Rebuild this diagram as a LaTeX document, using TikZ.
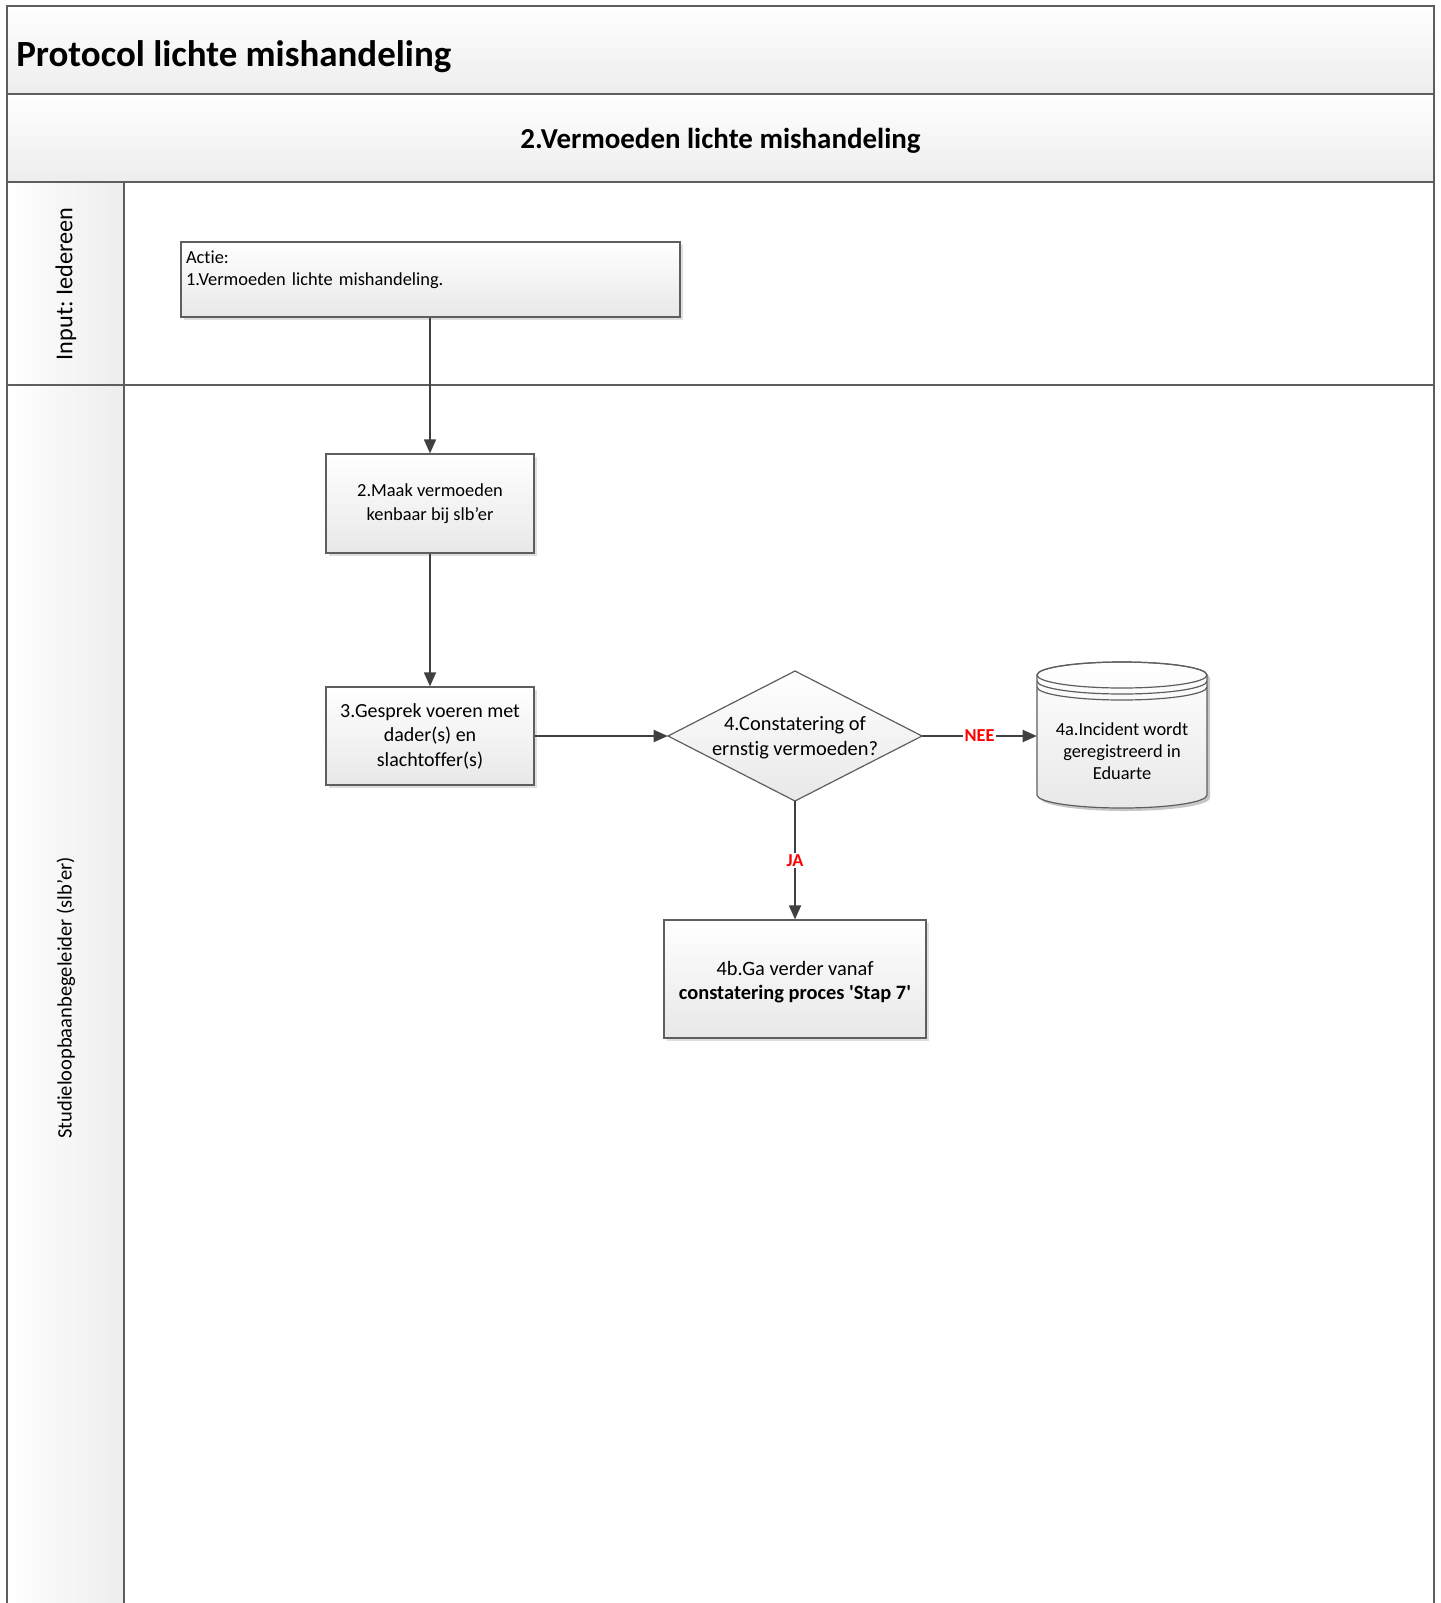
\documentclass[tikz,border=0pt]{standalone}
\usepackage{fontspec}
\newfontfamily\carl{Carlito}[Ligatures=NoCommon]
\usetikzlibrary{arrows.meta,shadows,calc}
\definecolor{lanegrey}{HTML}{EDEDED}
\definecolor{boxgrey}{HTML}{E8E8E8}
\definecolor{bordergrey}{HTML}{5E5E5E}
\definecolor{arrowgrey}{HTML}{404040}
\definecolor{nred}{HTML}{FF0000}
\newcommand\fsz[2]{\fontsize{#1}{#2}\selectfont}
\frenchspacing
\begin{document}
\begin{tikzpicture}[x=0.75pt,y=-0.75pt,
  every node/.style={font=\carl},
  box/.style={draw=bordergrey, line width=0.9pt, top color=white, bottom color=boxgrey,
    drop shadow={shadow xshift=2pt,shadow yshift=-2pt,opacity=0.25}, inner sep=0pt, align=center},
  flow/.style={draw=arrowgrey, line width=1.3pt, -{Triangle[length=10.5pt,width=9pt]}},
  lbl/.style={fill=white, text=nred, inner sep=1pt, font=\carl\bfseries\fsz{13.7pt}{16pt}},
  lane/.style={draw=bordergrey, line width=1.4pt},
  cylr/.style={x radius=63.75pt, y radius=9.75pt}
]
\useasboundingbox (0,0) rectangle (1440,1603);
% pool and lanes
\shade[top color=white,bottom color=lanegrey] (7,6) rectangle (1434,94);
\shade[top color=white,bottom color=lanegrey] (7,94) rectangle (1434,182);
\shade[left color=white,right color=lanegrey] (7,182) rectangle (124,385);
\shade[left color=white,right color=lanegrey] (7,385) rectangle (124,1610);
\draw[lane] (7,1610) -- (7,6) -- (1434,6) -- (1434,1610);
\draw[lane] (7,94) -- (1434,94);
\draw[lane] (7,182) -- (1434,182);
\draw[lane] (7,385) -- (1434,385);
\draw[lane] (124,182) -- (124,1610);

\node[anchor=west, inner sep=0pt, font=\carl\bfseries\fsz{27.7pt}{32pt}] (title) at (16,57) {Protocol lichte mishandeling};
\node[inner sep=0pt, font=\carl\bfseries\fsz{21.7pt}{26pt}] (pool) at (720.5,141) {2.Vermoeden lichte mishandeling};
\node[rotate=90, inner sep=0pt, font=\carl\fsz{18.2pt}{22pt}] (lane1) at (66,284) {Input: Iedereen};
\node[rotate=90, inner sep=0pt, font=\carl\fsz{15.4pt}{18pt}] (lane2) at (66,998) {Studieloopbaanbegeleider (slb’er)};

% boxes
\node[box, minimum width=374.25pt, minimum height=56.25pt, align=left, text width=366.75pt,
  font=\carl\fsz{13.8pt}{16.9pt}] (a1) at (430.5,279.5) {Actie:\\1.Vermoeden lichte mishandeling.\\\mbox{}};
\node[box, minimum width=156pt, minimum height=74.25pt, font=\carl\fsz{13.8pt}{17.6pt}] (b2) at (430,503.5) {2.Maak vermoeden\\kenbaar bij slb’er};
\node[box, minimum width=156pt, minimum height=73.5pt, font=\carl\fsz{15pt}{18.4pt}] (b3) at (430,736) {3.Gesprek voeren met\\dader(s) en\\slachtoffer(s)};

% diamond
\shadedraw[top color=white,bottom color=boxgrey,draw=bordergrey,line width=0.9pt]
  (668,736) -- (795,671) -- (922,736) -- (795,801) -- cycle;
\node[minimum width=190.5pt, minimum height=97.5pt, inner sep=0pt, align=center,
  font=\carl\fsz{15.3pt}{19pt}] (d) at (795,736) {\rule{0pt}{13pt}4.Constatering of\\ernstig vermoeden?};

% cylinder
\fill[black,opacity=0.22] (1040,678) -- (1040,798) arc[start angle=180,end angle=360,cylr] -- (1210,678) arc[start angle=0,end angle=180,cylr] -- cycle;
\shadedraw[top color=white,bottom color=boxgrey,draw=bordergrey,line width=0.9pt]
  (1037,675) -- (1037,795) arc[start angle=180,end angle=360,cylr] -- (1207,675) arc[start angle=0,end angle=180,cylr] -- cycle;
\draw[draw=bordergrey,line width=0.9pt] (1122,675) ellipse [cylr];
\draw[draw=bordergrey,line width=0.9pt] (1037,681) arc[start angle=180,end angle=360,cylr];
\draw[draw=bordergrey,line width=0.9pt] (1037,687) arc[start angle=180,end angle=360,cylr];
\node[minimum width=127.5pt, inner sep=0pt, align=center, font=\carl\fsz{13.8pt}{16.5pt}] (cyl) at (1122,751) {4a.Incident wordt\\geregistreerd in\\Eduarte};

\node[box, minimum width=196.5pt, minimum height=88.5pt, font=\carl\fsz{15.3pt}{18.4pt}] (b4) at (795,979) {\rule{0pt}{15pt}4b.Ga verder vanaf\\\textbf{constatering proces 'Stap 7'}};

% connectors
\draw[flow] (b2.north |- a1.south) -- (b2.north);
\draw[flow] (b2.south) -- (b3.north);
\draw[flow] (b3.east) -- (d.west);
\draw[flow] (d.east) -- node[lbl] {NEE} (d.east -| cyl.west);
\draw[flow] (d.south) -- node[lbl] {JA} (b4.north);
\end{tikzpicture}
\end{document}
